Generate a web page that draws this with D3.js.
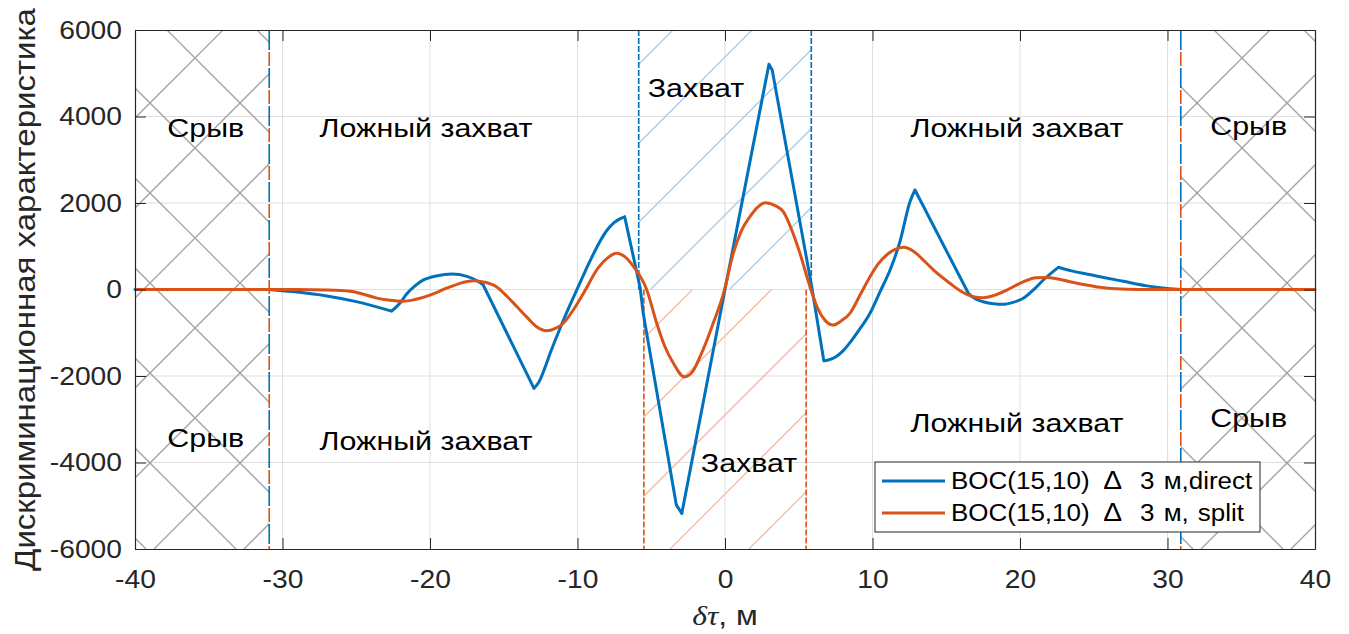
<!DOCTYPE html>
<html lang="ru">
    <head>
        <meta charset="utf-8">
        <title>Дискриминационная характеристика BOC(15,10)</title>
        <script src="https://d3js.org/d3.v7.min.js"></script>
        <style>
            body { margin: 0; background: #fff; }
            text { font-family: 'Liberation Sans', Arial, sans-serif; fill: #262626; }
            .wide { transform-box: fill-box; transform-origin: 50% 50%; transform: scaleX(1.13); }
            .wideR { transform-box: fill-box; transform-origin: 100% 50%; transform: scaleX(1.13); }
            .label { transform-box: fill-box; transform-origin: 50% 50%; transform: scaleX(1.17); }
        </style>
    </head>
    <body>
        <script>
            // chart data
            const xTicks = [-40, -30, -20, -10, 0, 10, 20, 30, 40];
            const yTicks = [-6000, -4000, -2000, 0, 2000, 4000, 6000];

            const seriesNames = ['BOC(15,10)  \u0394 3 м,direct', 'BOC(15,10)  \u0394 3 м, split'];

            // BOC(15,10) direct  [delta tau, value], split into pieces at its corners
            const bocDirect = [
                [[-40, 0], [-31, 0]],
                [[-31, 0], [-29, -60], [-27, -150], [-25, -280], [-22.6, -500]],
                [[-22.6, -500], [-22, -300], [-21.6, -110], [-21, 90], [-20.5, 210], [-19.5, 320],
                 [-18.5, 358], [-17.5, 305], [-16.9, 220], [-16.4, 110]],
                [[-16.4, 110], [-12.95, -2285]],
                [[-12.95, -2285], [-12.6, -2130], [-12.2, -1800], [-11.85, -1470], [-11.4, -1080],
                 [-10.95, -705], [-10.5, -350], [-10.05, -10], [-9.6, 330], [-9.15, 660],
                 [-8.5, 1100], [-8.0, 1370], [-7.5, 1550], [-7.1, 1640], [-6.8, 1680]],
                [[-6.8, 1680], [-5.75, 35], [-5.55, -540], [-3.3, -4980]],
                [[-3.3, -4980], [-2.93, -5180]],
                [[-2.93, -5180], [0, 0], [2.98, 5207]],
                [[2.98, 5207], [3.2, 5075], [5.88, 65], [6.7, -1650]],
                [[6.7, -1650], [7.0, -1630], [7.5, -1560], [8.0, -1420], [8.47, -1230], [9.0, -980],
                 [9.83, -550], [10.5, -60], [11.19, 450], [11.86, 1105], [12.54, 2030], [12.88, 2300]],
                [[12.88, 2300], [16.5, -88]],
                [[16.5, -88], [17.0, -220], [17.5, -282], [18.2, -330], [18.87, -342], [19.5, -300],
                 [20.22, -204], [21.0, 20], [21.58, 220], [22.6, 513]],
                [[22.6, 513], [23.5, 430], [24.5, 360], [25.42, 296], [27, 190], [28.5, 90], [30.9, 0]],
                [[30.9, 0], [40, 0]]
            ];

            // BOC(15,10) split
            const bocSplit = [
                [-40, 0], [-29, 0], [-27, -10], [-25.4, -40], [-24.5, -110], [-23.6, -200],
                [-22.7, -250], [-21.8, -270], [-21, -230], [-20, -130], [-19.3, -30], [-18.6, 65],
                [-17.8, 160], [-17.05, 205], [-16.3, 170], [-15.5, 65], [-14.8, -150], [-14.1, -400],
                [-13.4, -650], [-12.77, -860], [-12.1, -955], [-11.5, -900], [-10.96, -780],
                [-10.3, -480], [-9.6, -90], [-8.6, 500], [-8.0, 720], [-7.34, 837], [-6.8, 760],
                [-6.2, 530], [-5.3, -10], [-4.63, -780], [-4.1, -1300], [-3.5, -1706], [-2.75, -2020],
                [-2.2, -1900], [-1.69, -1553], [-1.2, -1150], [-0.8, -780], [-0.1, -90], [0.56, 837],
                [1.1, 1350], [1.69, 1683], [2.2, 1900], [2.75, 2007], [3.4, 1940], [3.95, 1799],
                [4.5, 1400], [5.08, 837], [5.76, 65], [6.3, -450], [6.8, -720], [7.34, -821],
                [7.9, -720], [8.47, -551], [9.2, -100], [9.83, 296], [10.4, 600], [10.96, 798],
                [11.5, 920], [12.09, 975], [12.8, 880], [13.44, 682], [14.3, 400], [15.25, 143],
                [16.0, -40], [16.84, -166], [17.5, -189], [18.3, -130], [19.1, -12], [20.1, 160],
                [21.1, 273], [21.8, 280], [22.5, 250], [23.4, 180], [24.4, 110], [25.42, 51],
                [26.5, 15], [28, 0], [40, 0]
            ];

            // region boundaries (delta tau)
            const slipBounds = [-30.9, 30.9];
            const lockDirect = [-5.85, 5.85];
            const lockSplit = [-5.5, 5.5];

            const regionLabels = [
                { text: 'Срыв', x: -35.2, y: 3526 },
                { text: 'Ложный захват', x: -20.27, y: 3526 },
                { text: 'Захват', x: -1.97, y: 4451 },
                { text: 'Ложный захват', x: 19.8, y: 3526 },
                { text: 'Срыв', x: 35.5, y: 3572 },
                { text: 'Срыв', x: -35.2, y: -3642 },
                { text: 'Ложный захват', x: -20.27, y: -3711 },
                { text: 'Захват', x: 1.63, y: -4220 },
                { text: 'Ложный захват', x: 19.8, y: -3295 },
                { text: 'Срыв', x: 35.5, y: -3179 }
            ];

            const w = 1349;
            const h = 634;
            const pLeft = 135, pRight = 1315, pTop = 30, pBottom = 549;
            const blue = '#0072bd';
            const red = '#d95319';

            const svg = d3.select('body')
                          .append('svg')
                          .attr('width', w)
                          .attr('height', h)

            const x = d3.scaleLinear().domain([-40, 40]).range([pLeft, pRight]);
            const y = d3.scaleLinear().domain([-6000, 6000]).range([pBottom, pTop]);

            //grid
            svg.append('g')
               .selectAll('line')
               .data(xTicks.slice(1, -1))
               .enter()
               .append('line')
               .attr('x1', d => x(d)).attr('x2', d => x(d))
               .attr('y1', pTop).attr('y2', pBottom)
               .attr('stroke', '#dfdfdf')
               .attr('stroke-width', 1)
            svg.append('g')
               .selectAll('line')
               .data(yTicks.slice(1, -1))
               .enter()
               .append('line')
               .attr('x1', pLeft).attr('x2', pRight)
               .attr('y1', d => y(d)).attr('y2', d => y(d))
               .attr('stroke', '#dfdfdf')
               .attr('stroke-width', 1)

            // hatch fill: diagonal lines clipped to a rectangle
            let clipId = 0;
            function hatch(x0, x1, y0, y1, dirs, step, phases, color, width) {
                const px0 = x(x0), px1 = x(x1), py0 = y(y1), py1 = y(y0);
                const id = 'clip' + (clipId++);
                svg.append('clipPath').attr('id', id)
                   .append('rect')
                   .attr('x', px0).attr('y', py0)
                   .attr('width', px1 - px0).attr('height', py1 - py0)
                const g = svg.append('g').attr('clip-path', 'url(#' + id + ')');
                dirs.forEach((dir, k) => {
                    // dir 1: x + y = c  ( / ),  dir -1: x - y = c  ( \ )
                    const cMin = dir > 0 ? px0 + py0 : px0 - py1;
                    const cMax = dir > 0 ? px1 + py1 : px1 - py0;
                    let c = Math.floor((cMin - phases[k]) / step) * step + phases[k];
                    for (; c <= cMax + step; c += step) {
                        const l = g.append('line')
                                   .attr('stroke', color)
                                   .attr('stroke-width', width)
                        if (dir > 0) {
                            l.attr('x1', c - py1).attr('y1', py1).attr('x2', c - py0).attr('y2', py0);
                        } else {
                            l.attr('x1', c + py0).attr('y1', py0).attr('x2', c + py1).attr('y2', py1);
                        }
                    }
                });
            }

            hatch(-40, slipBounds[0], -6000, 6000, [-1, 1], 90, [47, 73], '#a3a3a3', 1.3);
            hatch(slipBounds[1], 40, -6000, 6000, [-1, 1], 90, [14, 40], '#a3a3a3', 1.3);
            hatch(lockDirect[0], lockDirect[1], 0, 6000, [1], 79, [71], '#a8cdeb', 1.3);
            hatch(lockSplit[0], lockSplit[1], -6000, 0, [1], 79, [34], '#f3bca3', 1.3);

            //boundary lines
            function vline(v, y0, y1, color, dash, offset) {
                svg.append('line')
                   .attr('x1', x(v)).attr('x2', x(v))
                   .attr('y1', y(y1)).attr('y2', y(y0))
                   .attr('stroke', color)
                   .attr('stroke-width', 1.6)
                   .attr('stroke-dasharray', dash)
                   .attr('stroke-dashoffset', offset)
            }
            lockDirect.forEach(v => vline(v, 0, 6000, blue, '6,2', 0));
            lockSplit.forEach(v => vline(v, -6000, 0, red, '6,2', 0));
            slipBounds.forEach(v => {
                vline(v, -6000, 6000, blue, '20,18', 0);
                vline(v, -6000, 6000, red, '14,24', -22);
            });

            //curves
            const smooth = d3.line().x(d => x(d[0])).y(d => y(d[1])).curve(d3.curveMonotoneX);
            const straight = d3.line().x(d => x(d[0])).y(d => y(d[1]));
            svg.append('path')
               .attr('d', bocDirect.map(p => p.length > 4 ? smooth(p) : straight(p)).join(''))
               .attr('fill', 'none')
               .attr('stroke', blue)
               .attr('stroke-width', 3)
               .attr('stroke-linejoin', 'round')
               .attr('stroke-linecap', 'round')
            svg.append('path')
               .datum(bocSplit)
               .attr('d', smooth)
               .attr('fill', 'none')
               .attr('stroke', red)
               .attr('stroke-width', 3)
               .attr('stroke-linejoin', 'round')

            //region labels
            svg.append('g')
               .selectAll('text')
               .data(regionLabels)
               .enter()
               .append('text')
               .attr('class', 'label')
               .attr('x', d => x(d.x))
               .attr('y', d => y(d.y))
               .attr('text-anchor', 'middle')
               .attr('font-size', 26)
               .style('fill', '#000')
               .text(d => d.text)

            //x-axis
            const xAxis = svg.append('g')
               .attr('transform', 'translate(0,' + pBottom + ')')
               .call(d3.axisBottom(x).tickValues(xTicks).tickSizeInner(-11).tickSizeOuter(0)
                       .tickPadding(21).tickFormat(d => String(d)))
            svg.append('g')
               .attr('transform', 'translate(0,' + pTop + ')')
               .call(d3.axisTop(x).tickValues(xTicks).tickSizeInner(-11).tickSizeOuter(0).tickFormat(''))
            //y-axis
            const yAxis = svg.append('g')
               .attr('transform', 'translate(' + pLeft + ',0)')
               .call(d3.axisLeft(y).tickValues(yTicks).tickSizeInner(-11).tickSizeOuter(0)
                       .tickPadding(13).tickFormat(d => String(d)))
            svg.append('g')
               .attr('transform', 'translate(' + pRight + ',0)')
               .call(d3.axisRight(y).tickValues(yTicks).tickSizeInner(-11).tickSizeOuter(0).tickFormat(''))

            svg.selectAll('.domain').attr('stroke', '#262626').attr('stroke-width', 1.2)
            svg.selectAll('.tick line').attr('stroke', '#262626').attr('stroke-width', 1)
            xAxis.selectAll('.tick text').attr('class', 'wide').attr('font-size', 25)
                 .attr('font-family', null).style('fill', '#262626')
            yAxis.selectAll('.tick text').attr('class', 'wideR').attr('font-size', 25)
                 .attr('font-family', null).style('fill', '#262626')

            //axis titles
            const xLabel = svg.append('text')
                              .attr('x', (pLeft + pRight) / 2)
                              .attr('y', 625)
                              .attr('text-anchor', 'middle')
                              .attr('font-size', 28)
                              .attr('class', 'wide')
            xLabel.append('tspan')
                  .style('font-family', "'Liberation Serif', 'DejaVu Serif', serif")
                  .style('font-style', 'italic')
                  .text('δτ')
            xLabel.append('tspan').text(', м')

            svg.append('g')
               .attr('transform', 'translate(35,' + ((pTop + pBottom) / 2) + ') scale(0.9,1) rotate(-90)')
               .append('text')
               .attr('text-anchor', 'middle')
               .attr('font-size', 33)
               .text('Дискриминационная характеристика')

            //legend
            const legend = svg.append('g').attr('transform', 'translate(875,462)');
            legend.append('rect')
                  .attr('width', 385)
                  .attr('height', 70)
                  .attr('fill', '#fff')
                  .attr('stroke', '#262626')
                  .attr('stroke-width', 1)
            const items = legend.selectAll('g.item')
                  .data(seriesNames)
                  .enter()
                  .append('g')
                  .attr('class', 'item')
                  .attr('transform', (d, i) => 'translate(0,' + (19 + i * 32) + ')')
            items.append('line')
                 .attr('x1', 7).attr('x2', 70)
                 .attr('stroke', (d, i) => [blue, red][i])
                 .attr('stroke-width', 3)
            const gaps = [0, 12, 16, 8, 8];
            items.append('text')
                 .attr('x', 76)
                 .attr('y', 8)
                 .attr('font-size', 23)
                 .style('fill', '#000')
                 .style('transform-box', 'fill-box')
                 .style('transform-origin', '0% 50%')
                 .style('transform', 'scaleX(1.13)')
                 .selectAll('tspan')
                 .data(d => d.split(/\s+/))
                 .enter()
                 .append('tspan')
                 .attr('dx', (d, i) => gaps[i])
                 .attr('font-size', d => d === '\u0394' ? 25 : null)
                 .text(d => d)
        </script>
    </body>
</html>
